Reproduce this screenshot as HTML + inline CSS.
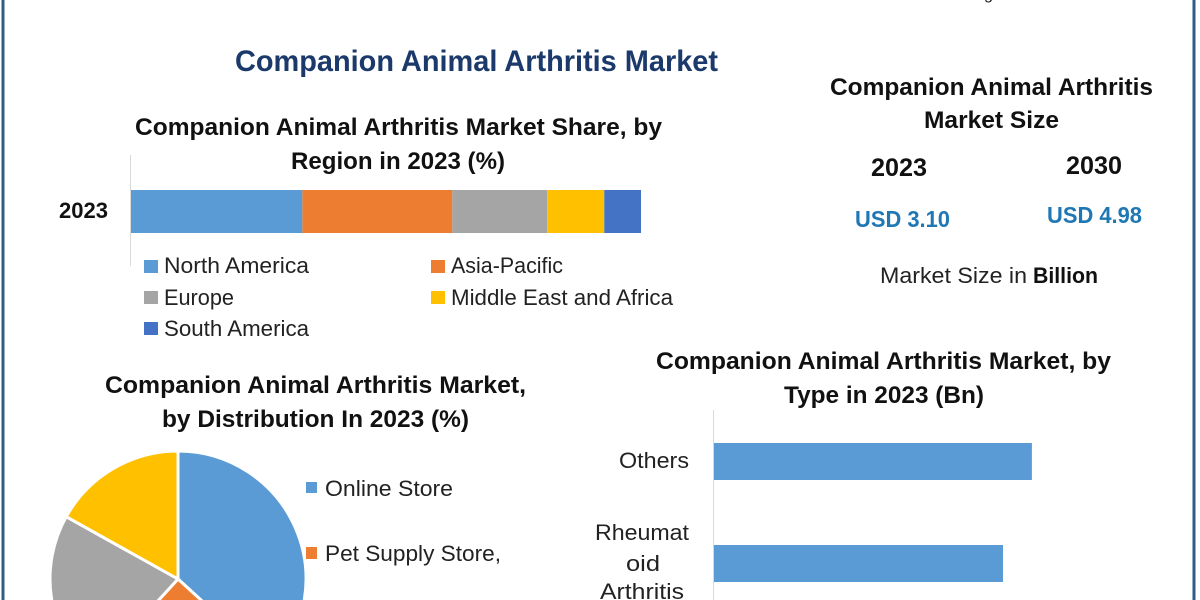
<!DOCTYPE html>
<html lang="en">
<head>
<meta charset="utf-8">
<title>Companion Animal Arthritis Market</title>
<style>
html,body{margin:0;padding:0;background:#fff;width:1200px;height:600px;overflow:hidden}
svg{display:block}
text{font-family:"Liberation Sans",sans-serif;fill:#111}
.h{font-weight:700;font-size:24.5px}
.l{font-size:22px;fill:#222}
.usd{font-size:23px;font-weight:700;fill:#1f78b4}
</style>
</head>
<body>
<svg id="chart" xmlns="http://www.w3.org/2000/svg" width="1200" height="600" viewBox="0 0 1200 600">
  <rect x="0" y="0" width="1200" height="600" fill="#fff"/>
  <rect x="1.5" y="0" width="3" height="600" fill="#2f5d85"/>
  <rect x="1192.5" y="0" width="3" height="600" fill="#2f5d85"/>
  <text x="984" y="-1" font-size="16" textLength="9" lengthAdjust="spacingAndGlyphs">g</text>

  <text x="235" y="71" font-size="29.5" font-weight="700" style="fill:#1b3a6b" textLength="483" lengthAdjust="spacingAndGlyphs">Companion Animal Arthritis Market</text>

  <text class="h" x="135" y="135" textLength="527" lengthAdjust="spacingAndGlyphs">Companion Animal Arthritis Market Share, by</text>
  <text class="h" x="291" y="169" textLength="214" lengthAdjust="spacingAndGlyphs">Region in 2023 (%)</text>
  <text x="59" y="218" font-size="22" font-weight="700" textLength="49" lengthAdjust="spacingAndGlyphs">2023</text>
  <line x1="130.5" y1="155" x2="130.5" y2="266" stroke="#d9d9d9" stroke-width="1"/>
  <g id="region-bar"></g>

  <g>
    <rect x="144" y="260" width="14" height="13" fill="#5b9bd5"/>
    <text class="l" x="164" y="273" textLength="145" lengthAdjust="spacingAndGlyphs">North America</text>
    <rect x="431" y="260" width="14" height="13" fill="#ed7d31"/>
    <text class="l" x="451" y="273" textLength="112" lengthAdjust="spacingAndGlyphs">Asia-Pacific</text>
    <rect x="144" y="291" width="14" height="13" fill="#a5a5a5"/>
    <text class="l" x="164" y="305" textLength="70" lengthAdjust="spacingAndGlyphs">Europe</text>
    <rect x="431" y="291" width="14" height="13" fill="#ffc000"/>
    <text class="l" x="451" y="305" textLength="222" lengthAdjust="spacingAndGlyphs">Middle East and Africa</text>
    <rect x="144" y="322" width="14" height="13" fill="#4472c4"/>
    <text class="l" x="164" y="336" textLength="145" lengthAdjust="spacingAndGlyphs">South America</text>
  </g>

  <text class="h" x="830" y="95" textLength="323" lengthAdjust="spacingAndGlyphs">Companion Animal Arthritis</text>
  <text class="h" x="924" y="128" textLength="135" lengthAdjust="spacingAndGlyphs">Market Size</text>
  <text x="871" y="176" font-size="25" font-weight="700" textLength="56" lengthAdjust="spacingAndGlyphs">2023</text>
  <text x="1066" y="174" font-size="25" font-weight="700" textLength="56" lengthAdjust="spacingAndGlyphs">2030</text>
  <text class="usd" x="855" y="227" textLength="95" lengthAdjust="spacingAndGlyphs">USD 3.10</text>
  <text class="usd" x="1047" y="223" textLength="95" lengthAdjust="spacingAndGlyphs">USD 4.98</text>
  <text class="l" x="880" y="283" textLength="147" lengthAdjust="spacingAndGlyphs">Market Size in</text>
  <text x="1033" y="283" font-size="22" font-weight="700" textLength="65" lengthAdjust="spacingAndGlyphs">Billion</text>

  <text class="h" x="105" y="393" textLength="421" lengthAdjust="spacingAndGlyphs">Companion Animal Arthritis Market,</text>
  <text class="h" x="162" y="427" textLength="307" lengthAdjust="spacingAndGlyphs">by Distribution In 2023 (%)</text>
  <g id="pie"></g>
  <g>
    <rect x="306" y="482" width="11" height="11" fill="#5b9bd5"/>
    <text class="l" x="325" y="496" textLength="128" lengthAdjust="spacingAndGlyphs">Online Store</text>
    <rect x="306" y="547" width="11" height="12" fill="#ed7d31"/>
    <text class="l" x="325" y="561" textLength="176" lengthAdjust="spacingAndGlyphs">Pet Supply Store,</text>
  </g>

  <text class="h" x="656" y="369" textLength="455" lengthAdjust="spacingAndGlyphs">Companion Animal Arthritis Market, by</text>
  <text class="h" x="784" y="403" textLength="200" lengthAdjust="spacingAndGlyphs">Type in 2023 (Bn)</text>
  <line x1="713.5" y1="410" x2="713.5" y2="600" stroke="#d9d9d9" stroke-width="1"/>
  <text class="l" x="619" y="468" textLength="70" lengthAdjust="spacingAndGlyphs">Others</text>
  <text class="l" x="595" y="540" textLength="94" lengthAdjust="spacingAndGlyphs">Rheumat</text>
  <text class="l" x="626" y="571" textLength="34" lengthAdjust="spacingAndGlyphs">oid</text>
  <text class="l" x="600" y="599" textLength="84" lengthAdjust="spacingAndGlyphs">Arthritis</text>
  <g id="type-bars"></g>
</svg>
<script>
const regionNames = ['north-america', 'asia-pacific', 'europe', 'middle-east-africa', 'south-america'];
const regionShares = [33.6, 29.4, 18.6, 11.2, 7.2];
const regionColors = ['#5b9bd5', '#ed7d31', '#a5a5a5', '#ffc000', '#4472c4'];

const distributionNames = ['online-store', 'pet-supply-store', 'other-store', 'veterinary-store'];
const distributionShares = [36.8, 25.0, 21.3, 16.9];
const distributionColors = ['#5b9bd5', '#ed7d31', '#a5a5a5', '#ffc000'];

const typeNames = ['others', 'rheumatoid-arthritis'];
const typeValues = [1.10, 1.00];

const NS = 'http://www.w3.org/2000/svg';

// Stacked bar axis: 0-100 % across the plot width
const regionX = v => 131 + v * 5.1;
const regionGroup = document.getElementById('region-bar');
let cumulative = 0;
regionShares.forEach((v, i) => {
  const r = document.createElementNS(NS, 'rect');
  
  
  r.setAttribute('x', regionX(cumulative));
  r.setAttribute('y', 190);
  r.setAttribute('width', regionX(cumulative + v) - regionX(cumulative));
  r.setAttribute('height', 43);
  r.setAttribute('fill', regionColors[i]);
  regionGroup.appendChild(r);
  cumulative += v;
});

// Pie: clockwise from 12 o'clock, clipped by the page bottom
const pieX = 178, pieY = 579, pieR = 128;
const pieTotal = distributionShares.reduce((a, b) => a + b, 0);
const pieAngle = v => (v / pieTotal) * 2 * Math.PI;
const piePoint = a => [pieX + pieR * Math.sin(a), pieY - pieR * Math.cos(a)];
const pieGroup = document.getElementById('pie');
let pieStart = 0;
distributionShares.forEach((v, i) => {
  const a1 = pieStart + pieAngle(v);
  const p0 = piePoint(pieStart), p1 = piePoint(a1);
  const large = a1 - pieStart > Math.PI ? 1 : 0;
  const p = document.createElementNS(NS, 'path');
  
  
  p.setAttribute('d', `M${pieX} ${pieY}L${p0[0]} ${p0[1]}A${pieR} ${pieR} 0 ${large} 1 ${p1[0]} ${p1[1]}Z`);
  p.setAttribute('fill', distributionColors[i]);
  p.setAttribute('stroke', '#fff');
  p.setAttribute('stroke-width', '3');
  pieGroup.appendChild(p);
  pieStart = a1;
});

// Horizontal bar axis
const typeX = v => v * 289;
const typeY = i => 443 + i * 102;
const typeGroup = document.getElementById('type-bars');
typeValues.forEach((v, i) => {
  const r = document.createElementNS(NS, 'rect');
  
  
  r.setAttribute('x', 714);
  r.setAttribute('y', typeY(i));
  r.setAttribute('width', typeX(v));
  r.setAttribute('height', 37);
  r.setAttribute('fill', '#5b9bd5');
  typeGroup.appendChild(r);
});
</script>
</body>
</html>
